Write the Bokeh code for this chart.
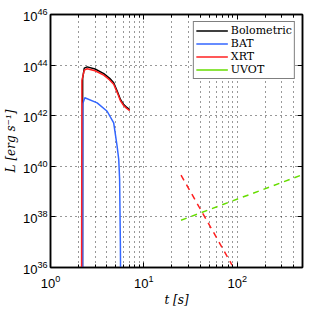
from bokeh.plotting import figure
from bokeh.models import FixedTicker, LogAxis, Legend, LegendItem
from bokeh.embed import file_html
from bokeh.resources import INLINE

# Data (L in erg/s, t in s)
bol_t = [2.2, 2.21, 2.3, 2.47, 3.0, 3.72, 4.3, 4.75, 5.2, 5.61, 6.08, 6.5, 7.05]
bol_L = [1e35, 3e43, 7.6e43, 8.5e43, 7.0e43, 4.6e43, 3.0e43, 2.0e43, 9.0e42, 4.4e42, 2.75e42, 2.2e42, 1.75e42]

bat_t = [2.21, 2.22, 2.33, 3.16, 4.04, 4.75, 5.17, 5.38, 5.5, 5.6, 5.65]
bat_L = [1e35, 3e42, 5.1e42, 3.2e42, 1.5e42, 5.2e41, 6.2e40, 1.9e40, 3e39, 1e37, 1e35]

xrt_t = [2.15, 2.17, 2.3, 2.47, 3.0, 3.72, 4.3, 4.75, 5.2, 5.61, 6.08, 6.5, 7.05]
xrt_L = [1e35, 2.5e43, 6.3e43, 7.2e43, 6.0e43, 4.0e43, 2.6e43, 1.75e43, 8.0e42, 3.9e42, 2.5e42, 2.0e42, 1.6e42]

xrt_late_t = [25.0, 88.0]
xrt_late_L = [4.5e39, 1.25e36]

uvot_t = [25.0, 480.0]
uvot_L = [7.4e37, 4.4e39]

x_major = [1, 10, 100]
x_minor = [2, 3, 4, 5, 6, 7, 8, 9, 20, 30, 40, 50, 60, 70, 80, 90, 200, 300, 400, 500]
y_major = [1e36, 1e38, 1e40, 1e42, 1e44, 1e46]

p = figure(frame_width=252, frame_height=253, x_axis_type="log", y_axis_type="log",
           x_range=(1, 500), y_range=(1e36, 1e46),
           output_backend="svg", toolbar_location=None,
           min_border_left=42, min_border_right=8, min_border_top=14, min_border_bottom=36)

p.background_fill_color = "white"
p.border_fill_color = "white"
p.outline_line_color = "black"
p.outline_line_width = 1.5

cols = {"bol": "#000000", "bat": "#3366ff", "xrt": "#ff2020", "uvot": "#66dd00"}

r_bol = p.line(bol_t, bol_L, line_color=cols["bol"], line_width=1.5)
r_bat = p.line(bat_t, bat_L, line_color=cols["bat"], line_width=1.5)
r_xrt = p.line(xrt_t, xrt_L, line_color=cols["xrt"], line_width=1.5)
p.line(xrt_late_t, xrt_late_L, line_color=cols["xrt"], line_width=1.5, line_dash="6 5")
p.line(uvot_t, uvot_L, line_color=cols["uvot"], line_width=1.5, line_dash="6 5")
# solid key for the legend (hidden in the plot area)
r_uvot_key = p.line(uvot_t, uvot_L, line_color=cols["uvot"], line_width=1.5, visible=False)

xt = FixedTicker(ticks=x_major, minor_ticks=x_minor)
yt = FixedTicker(ticks=y_major, minor_ticks=[])

def style_axis(ax, show_labels=True):
    ax.axis_line_color = "black"
    ax.axis_line_width = 1.5
    ax.major_tick_in = 5
    ax.major_tick_out = 0
    ax.minor_tick_in = 3
    ax.minor_tick_out = 0
    ax.major_tick_line_color = "black"
    ax.minor_tick_line_color = "black"
    ax.major_label_text_font = "Liberation Sans"
    ax.major_label_text_font_size = "13px"
    ax.major_label_text_color = "black"
    ax.major_label_standoff = 4
    if not show_labels:
        ax.major_label_text_font_size = "0px"
        ax.major_label_text_color = None

p.xaxis.ticker = xt
p.yaxis.ticker = yt
style_axis(p.xaxis[0])
style_axis(p.yaxis[0])
p.yaxis[0].major_label_standoff = 3
p.xaxis[0].major_label_standoff = 7
p.xaxis[0].axis_label = "t [s]"
p.yaxis[0].axis_label = "L [erg s\u207b\u00b9]"
for ax in (p.xaxis[0], p.yaxis[0]):
    ax.axis_label_text_font = "DejaVu Serif"
    ax.axis_label_text_font_style = "italic"
    ax.axis_label_text_font_size = "12px"
    ax.axis_label_text_color = "black"
    ax.axis_label_standoff = 2

top = LogAxis(ticker=FixedTicker(ticks=x_major, minor_ticks=x_minor))
right = LogAxis(ticker=FixedTicker(ticks=y_major, minor_ticks=[]))
style_axis(top, False)
style_axis(right, False)
p.add_layout(top, "above")
p.add_layout(right, "right")

p.xgrid.ticker = xt
p.ygrid.ticker = yt
p.xgrid.grid_line_color = "black"
p.xgrid.grid_line_dash = "1 4"
p.xgrid.grid_line_alpha = 0.8
p.xgrid.minor_grid_line_color = "black"
p.xgrid.minor_grid_line_dash = "1 4"
p.xgrid.minor_grid_line_alpha = 0.8
p.ygrid.grid_line_color = "black"
p.ygrid.grid_line_dash = "1 4"
p.ygrid.grid_line_alpha = 0.8

legend = Legend(items=[
    LegendItem(label="Bolometric", renderers=[r_bol]),
    LegendItem(label="BAT", renderers=[r_bat]),
    LegendItem(label="XRT", renderers=[r_xrt]),
    LegendItem(label="UVOT", renderers=[r_uvot_key]),
], location="top_right")
legend.label_text_font = "DejaVu Serif"
legend.label_text_font_size = "11px"
legend.label_text_color = "black"
legend.label_height = 11
legend.glyph_height = 11
legend.glyph_width = 32
legend.label_standoff = 3
legend.spacing = -3
legend.padding = 2
legend.margin = 7
legend.border_line_color = "black"
legend.border_line_width = 1
legend.background_fill_color = "white"
legend.background_fill_alpha = 1
legend.inactive_fill_alpha = 0
p.add_layout(legend)

open("out.html", "w").write(file_html(p, INLINE))
